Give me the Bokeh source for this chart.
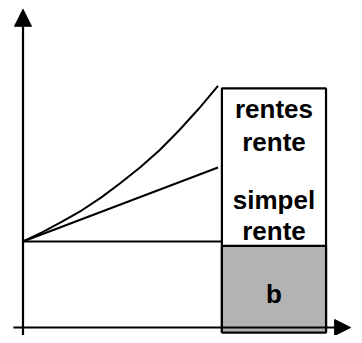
from bokeh.plotting import figure
from bokeh.models import Arrow, NormalHead, Range1d
from bokeh.core.properties import value
from bokeh.embed import file_html
from bokeh.resources import INLINE

# data
years = [0, 1, 2, 3, 4, 5, 6, 7, 8, 9, 10]
compound = [1.00, 1.11, 1.23, 1.36, 1.51, 1.68, 1.86, 2.06, 2.29, 2.54, 2.81]
simple_years = [0, 10]
simple = [1.00, 1.86]
b_level = 1.0
labels_top = ["rentes", "rente"]
labels_mid = ["simpel", "rente"]
label_b = "b"

p = figure(width=354, height=335, output_backend="svg", toolbar_location=None,
           x_range=Range1d(-1.154, 17.0), y_range=Range1d(-0.093, 3.802),
           min_border=0)
p.axis.visible = False
p.grid.visible = False
p.outline_line_color = None
p.background_fill_color = "white"

# axes with arrows
p.add_layout(Arrow(end=NormalHead(size=17, line_color="black", fill_color="black", line_width=1),
                   x_start=0, y_start=-0.093, x_end=0, y_end=3.70, line_width=2.2, line_color="black"))
p.add_layout(Arrow(end=NormalHead(size=16, line_color="black", fill_color="black", line_width=1),
                   x_start=-0.49, y_start=0, x_end=16.8, y_end=0, line_width=2.2, line_color="black"))

# lines
p.line(years, compound, line_color="black", line_width=2)
p.line(simple_years, simple, line_color="black", line_width=2)
p.line([0, 10.33], [b_level, b_level], line_color="black", line_width=2)

# box
bx0, bx1 = 10.2, 15.54
p.quad(left=[bx0], right=[bx1], bottom=[-0.058], top=[2.78],
       fill_color="white", line_color="black", line_width=2.2)
p.quad(left=[bx0], right=[bx1], bottom=[-0.058], top=[b_level - 0.05],
       fill_color="#b3b3b3", line_color="black", line_width=2.2)

cx = (bx0 + bx1) / 2
font = value("Liberation Sans")
p.text(x=[cx, cx], y=[2.546, 2.151], text=labels_top, text_font=font,
       text_font_size="26px", text_font_style="bold", text_align="center",
       text_baseline="alphabetic", text_color="black")
p.text(x=[cx, cx], y=[1.485, 1.124], text=labels_mid, text_font=font,
       text_font_size="26px", text_font_style="bold", text_align="center",
       text_baseline="alphabetic", text_color="black")
p.text(x=[cx], y=[0.387], text=[label_b], text_font=font,
       text_font_size="26px", text_font_style="bold", text_align="center",
       text_baseline="alphabetic", text_color="black")

open("out.html", "w").write(file_html(p, INLINE))
